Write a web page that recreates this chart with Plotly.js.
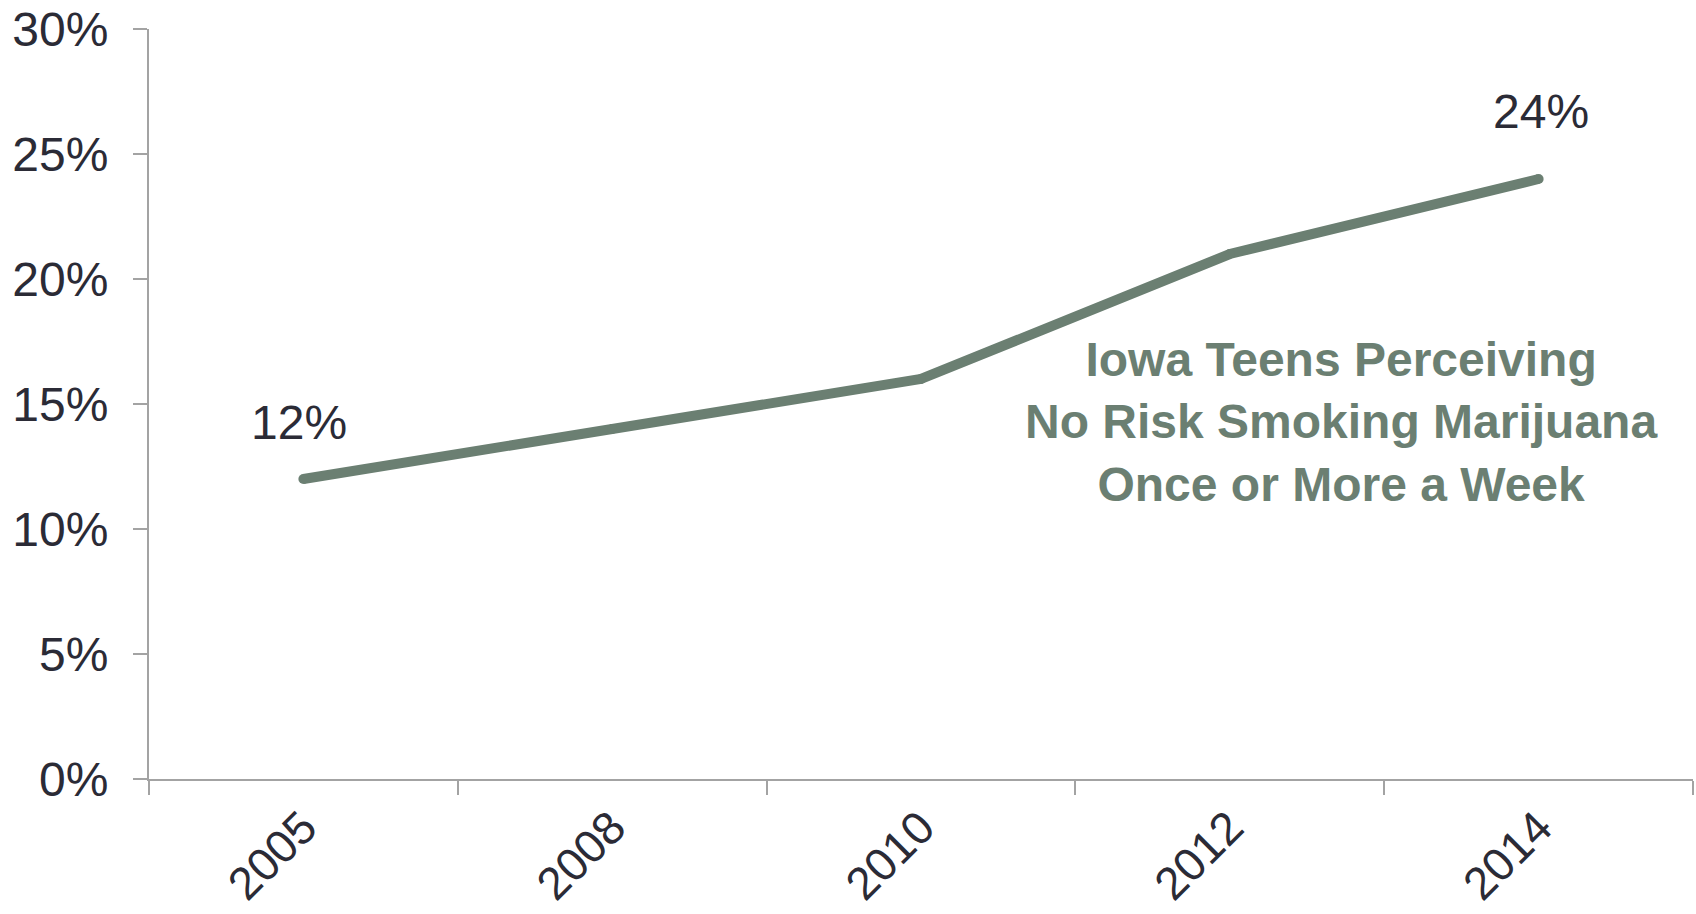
<!DOCTYPE html>
<html>
<head>
<meta charset="utf-8">
<script src="https://cdn.plot.ly/plotly-3.0.1.min.js"></script>
<style>html,body{margin:0;padding:0;background:#fff;}#chart{width:1696px;height:914px;}</style>
</head>
<body>
<div id="chart"></div>
<script>
const years = ['2005', '2008', '2010', '2012', '2014'];
const percent = [12, 14, 16, 21, 24];
const labelledYears = ['2005', '2014'];
const seriesName = 'Iowa Teens Perceiving<br>No Risk Smoking Marijuana<br>Once or More a Week';

const lineColor = '#6b7f72';
const textColor = '#2b2b36';
const axisColor = '#a3a3a3';
const fontFamily = '"Liberation Sans", Arial, sans-serif';

const trace = {
  type: 'scatter',
  mode: 'lines+markers',
  x: years,
  y: percent,
  line: {color: lineColor, width: 10},
  marker: {color: lineColor, size: 10},
  hoverinfo: 'x+y',
  showlegend: false
};

const shifts = {'2005': [-4, 57], '2014': [2, 68]};
const valueAnnotations = labelledYears.map(yr => {
  const i = years.indexOf(yr);
  return {
    x: i, y: percent[i], xref: 'x', yref: 'y',
    text: percent[i] + '%', showarrow: false,
    xanchor: 'center', yanchor: 'middle',
    xshift: shifts[yr][0], yshift: shifts[yr][1],
    font: {family: fontFamily, size: 48, color: textColor}
  };
});

const layout = {
  width: 1696, height: 914,
  margin: {l: 149, r: 3, t: 29, b: 135},
  paper_bgcolor: '#ffffff', plot_bgcolor: '#ffffff',
  font: {family: fontFamily, color: textColor, size: 48},
  xaxis: {
    type: 'category',
    range: [-0.5, 4.5],
    tickson: 'boundaries',
    ticks: 'outside', ticklen: 14, tickwidth: 2, tickcolor: axisColor,
    showline: true, linecolor: axisColor, linewidth: 2,
    showgrid: false, zeroline: false,
    tickangle: -45,
    ticklabelstandoff: 1,
    tickfont: {family: fontFamily, size: 46, color: textColor}
  },
  yaxis: {
    range: [0, 30], dtick: 5, tick0: 0,
    ticksuffix: '%',
    ticks: 'outside', ticklen: 14, tickwidth: 2, tickcolor: axisColor,
    showline: true, linecolor: axisColor, linewidth: 2,
    showgrid: false, zeroline: false,
    ticklabelstandoff: 15,
    tickfont: {family: fontFamily, size: 48, color: textColor}
  },
  annotations: valueAnnotations.concat([{
    x: 0.772, y: 0.476, xref: 'paper', yref: 'paper',
    xanchor: 'center', yanchor: 'middle',
    text: '<b>' + seriesName + '</b>', showarrow: false, align: 'center',
    font: {family: fontFamily, size: 48, color: lineColor}
  }])
};

Plotly.newPlot('chart', [trace], layout, {displayModeBar: false, staticPlot: true});
</script>
</body>
</html>
